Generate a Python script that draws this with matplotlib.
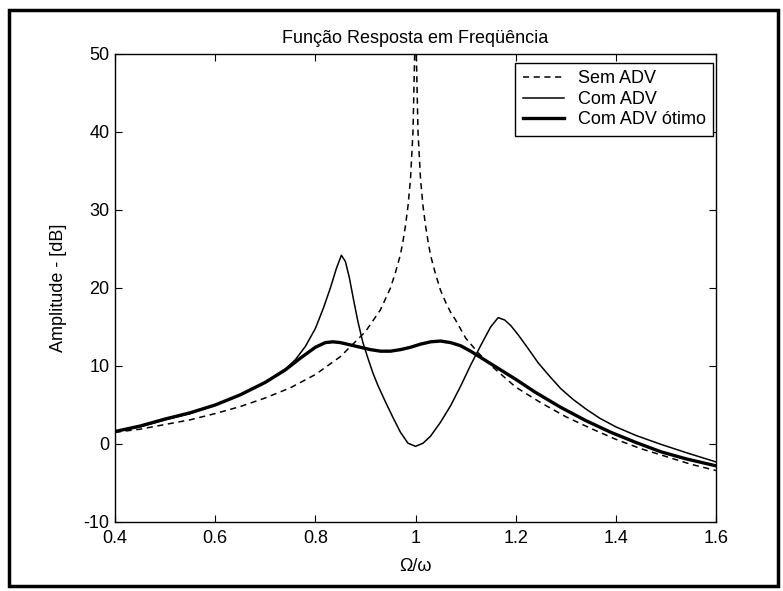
import matplotlib
matplotlib.use("Agg")
import matplotlib.pyplot as plt
from matplotlib.patches import Rectangle

# ---- data ----
x_sem = [0.40, 0.45, 0.50, 0.55, 0.60, 0.65, 0.70, 0.75, 0.80, 0.85, 0.90, 0.93,
         0.95, 0.96, 0.97, 0.975, 0.98, 0.985, 0.99, 0.995, 1.0, 1.005, 1.01,
         1.015, 1.02, 1.025, 1.03, 1.04, 1.05, 1.06, 1.07, 1.08, 1.10, 1.125,
         1.15, 1.20, 1.25, 1.30, 1.35, 1.40, 1.45, 1.50, 1.55, 1.60]
y_sem = [1.5, 1.9, 2.5, 3.1, 3.9, 4.8, 5.9, 7.2, 8.9, 11.2, 14.4, 17.2,
         20.0, 22.0, 24.3, 26.0, 28.0, 30.5, 34.0, 40.0, 55.0, 40.0, 34.0,
         30.5, 28.0, 26.0, 24.2, 21.8, 19.7, 18.2, 16.9, 15.9, 13.6, 11.7,
         10.1, 7.3, 5.3, 3.5, 2.0, 0.6, -0.6, -1.6, -2.6, -3.4]

x_com = [0.40, 0.45, 0.50, 0.55, 0.60, 0.65, 0.70, 0.74, 0.76, 0.78, 0.80, 0.816,
         0.83, 0.842, 0.852, 0.86, 0.868, 0.876, 0.885, 0.895, 0.905, 0.915,
         0.925, 0.94, 0.955, 0.97, 0.985, 1.0, 1.015, 1.03, 1.05, 1.07, 1.09,
         1.11, 1.13, 1.15, 1.165, 1.178, 1.19, 1.205, 1.222, 1.245, 1.269, 1.29,
         1.315, 1.34, 1.368, 1.40, 1.44, 1.488, 1.54, 1.60]
y_com = [1.6, 2.2, 3.1, 3.9, 5.0, 6.3, 7.9, 9.6, 10.8, 12.5, 14.8, 17.4,
         20.0, 22.5, 24.2, 23.4, 21.3, 18.6, 15.7, 13.0, 11.0, 9.1,
         7.5, 5.4, 3.4, 1.5, 0.1, -0.3, 0.1, 1.0, 2.8, 4.9, 7.4,
         10.1, 12.6, 15.0, 16.2, 15.9, 15.2, 14.0, 12.5, 10.4, 8.6, 7.1,
         5.7, 4.5, 3.3, 2.2, 1.1, 0.0, -1.1, -2.3]

x_otimo = [0.40, 0.45, 0.50, 0.55, 0.60, 0.65, 0.70, 0.74, 0.77, 0.80, 0.82,
           0.835, 0.85, 0.87, 0.89, 0.91, 0.93, 0.95, 0.97, 0.99, 1.01, 1.03,
           1.05, 1.07, 1.09, 1.11, 1.13, 1.16, 1.20, 1.24, 1.29, 1.34, 1.39,
           1.44, 1.49, 1.54, 1.60]
y_otimo = [1.6, 2.3, 3.2, 4.0, 5.0, 6.3, 7.9, 9.5, 11.0, 12.4, 13.0,
           13.1, 13.0, 12.7, 12.4, 12.1, 11.9, 11.9, 12.1, 12.4, 12.8, 13.1,
           13.2, 13.0, 12.6, 11.9, 11.1, 9.9, 8.3, 6.6, 4.7, 3.0, 1.5,
           0.2, -1.0, -1.9, -2.8]

labels = ["Sem ADV", "Com ADV", "Com ADV ótimo"]
title = "Função Resposta em Freqüência"
xlabel = "Ω/ω"
ylabel = "Amplitude - [dB]"
xticks = [0.4, 0.6, 0.8, 1.0, 1.2, 1.4, 1.6]
xticklabels = ["0.4", "0.6", "0.8", "1", "1.2", "1.4", "1.6"]
yticks = [-10, 0, 10, 20, 30, 40, 50]

plt.rcParams['font.family'] = ['Liberation Sans', 'DejaVu Sans']
plt.rcParams['axes.unicode_minus'] = False

FS = 13
W, H = 783, 591
fig = plt.figure(figsize=(W / 100, H / 100), dpi=100)
ax = fig.add_axes([115 / W, 1 - 522 / H, (716 - 115) / W, (522 - 54) / H])

ax.plot(x_sem, y_sem, color='black', lw=1.1, ls=(0, (4, 3)), label=labels[0])
ax.plot(x_com, y_com, color='black', lw=1.1, label=labels[1])
ax.plot(x_otimo, y_otimo, color='black', lw=2.4, label=labels[2])

ax.set_xlim(0.4, 1.6)
ax.set_ylim(-10, 50)
ax.set_xticks(xticks)
ax.set_xticklabels(xticklabels)
ax.set_yticks(yticks)
ax.tick_params(direction='in', top=True, right=True, length=5, width=0.8,
               labelsize=FS, colors='black')
ax.tick_params(axis='x', pad=6)
ax.tick_params(axis='y', pad=4)
for s in ax.spines.values():
    s.set_linewidth(1.0)

ax.set_title(title, fontsize=FS, pad=8)
ax.set_xlabel(xlabel, fontsize=FS, labelpad=8)
ax.set_ylabel(ylabel, fontsize=FS, labelpad=12)

leg = ax.legend(loc='upper right', bbox_to_anchor=(1 - 3 / 601, 1 - 9 / 468),
                borderaxespad=0, fancybox=False, framealpha=1, edgecolor='black',
                fontsize=FS, handlelength=2.3, handletextpad=0.75,
                labelspacing=0.2, borderpad=0.4)
leg.get_frame().set_linewidth(1.0)

fig.patches.append(Rectangle((9 / W, 1 - 586 / H), (778 - 9) / W, (586 - 10) / H,
                             transform=fig.transFigure, fill=False,
                             edgecolor='black', linewidth=2.5))

fig.savefig("out.png", dpi=100)
